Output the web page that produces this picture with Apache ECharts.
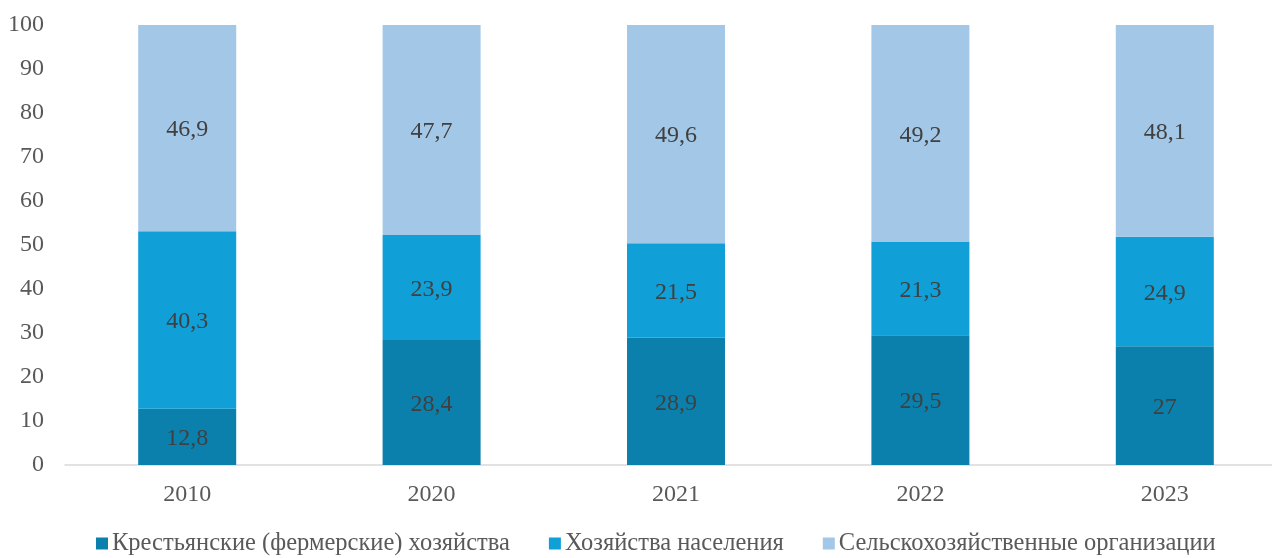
<!DOCTYPE html>
<html>
<head>
<meta charset="utf-8">
<script src="https://cdn.jsdelivr.net/npm/echarts@6/dist/echarts.min.js"></script>
<style>html,body{margin:0;padding:0;background:#fff}#c{width:1272px;height:558px}</style>
</head>
<body>
<div id="c"></div>
<script>
const categories = ['2010', '2020', '2021', '2022', '2023'];
const seriesNames = ['Крестьянские (фермерские) хозяйства', 'Хозяйства населения', 'Сельскохозяйственные организации'];
const farmers = [12.8, 28.4, 28.9, 29.5, 27];
const households = [40.3, 23.9, 21.5, 21.3, 24.9];
const organizations = [46.9, 47.7, 49.6, 49.2, 48.1];
const colors = ['#0b80ad', '#109fd7', '#a2c7e7'];
const font = '"Liberation Serif", "Times New Roman", serif';

const chart = echarts.init(document.getElementById('c'));
function mk(name, data, color) {
  return {
    name: name, type: 'bar', stack: 'total', data: data, barWidth: 98,
    itemStyle: { color: color },
    label: {
      show: true, position: 'inside', offset: [0, 2], fontFamily: font, fontSize: 24, color: '#404040',
      formatter: p => String(p.value).replace('.', ',')
    },
    emphasis: { disabled: true }
  };
}
chart.setOption({
  animation: false,
  textStyle: { fontFamily: font },
  grid: { left: 65, top: 25, width: 1222, height: 440, containLabel: false, outerBoundsMode: 'none' },
  legend: {
    bottom: 2, left: 96, padding: 0, itemWidth: 12, itemHeight: 12, itemGap: 39,
    icon: 'rect',
    textStyle: { fontFamily: font, fontSize: 24.5, color: '#595959', padding: [0, 0, 0, -1] },
    data: seriesNames
  },
  xAxis: {
    type: 'category', data: categories,
    axisLine: { lineStyle: { color: '#d9d9d9', width: 1.5 } },
    axisTick: { show: false },
    axisLabel: { fontFamily: font, fontSize: 24, color: '#595959', margin: 18 }
  },
  yAxis: {
    type: 'value', min: 0, max: 100, interval: 10,
    splitLine: { show: false },
    axisLine: { show: false }, axisTick: { show: false },
    axisLabel: { fontFamily: font, fontSize: 24, color: '#595959', margin: 21 }
  },
  series: [
    mk(seriesNames[0], farmers, colors[0]),
    mk(seriesNames[1], households, colors[1]),
    mk(seriesNames[2], organizations, colors[2])
  ]
});
</script>
</body>
</html>
